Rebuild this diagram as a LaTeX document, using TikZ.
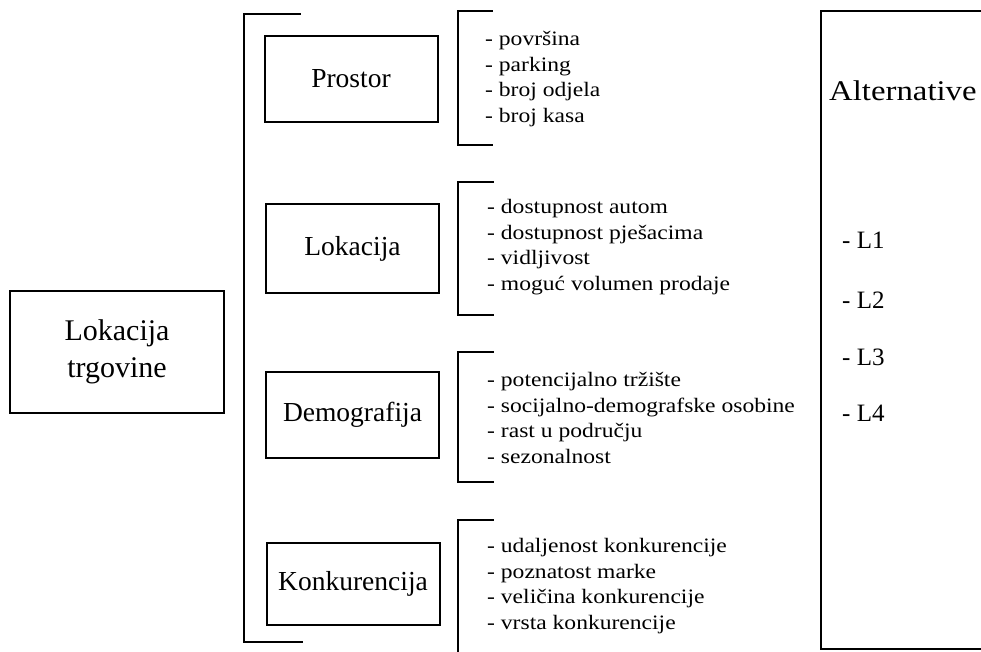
\documentclass[tikz,border=0pt]{standalone}
\usepackage{fontspec}
\setmainfont{Liberation Serif}
\newfontfamily\widefont[FakeStretch=1.15]{Liberation Serif}
\begin{document}
\begin{tikzpicture}[x=1pt,y=-1pt,
  ln/.style={line width=2pt, line cap=rect},
  catbox/.style={draw, line width=2pt, minimum width=173pt, minimum height=86pt, inner sep=0pt, font=\fontsize{27.5}{30}\selectfont},
  listtxt/.style={anchor=west, align=left, inner sep=0pt, font=\widefont\fontsize{20.5}{25.5}\selectfont},
  alttxt/.style={anchor=west, inner sep=0pt, font=\fontsize{25}{30}\selectfont}]
\useasboundingbox (0,0) rectangle (981,651);
% main box
\node[draw, line width=2pt, minimum width=214pt, minimum height=122pt, align=center, inner sep=0pt,
  font=\fontsize{30}{37}\selectfont] (main) at (117,352) {Lokacija\\trgovine};
% big bracket
\draw[ln] (300,14) -- (244,14) -- (244,642) -- (302,642);
% category boxes
\node[catbox] (prostor) at (351,79) {Prostor};
\node[catbox, minimum height=89pt] (lokacija) at (352.5,248.5) {Lokacija};
\node[catbox] (demo) at (352.5,415) {Demografija};
\node[catbox, minimum height=82pt] (konk) at (353,584) {Konkurencija};
% list brackets
\draw[ln] (492,11) -- (458,11) -- (458,145) -- (492,145);
\draw[ln] (493,182) -- (458,182) -- (458,315) -- (493,315);
\draw[ln] (493,352) -- (458,352) -- (458,482) -- (493,482);
\draw[ln] (493,520) -- (458,520) -- (458,652);
% lists
\node[listtxt] (l1) at (485,79) {- površina\\- parking\\- broj odjela\\- broj kasa};
\node[listtxt] (l2) at (487,247) {- dostupnost autom\\- dostupnost pješacima\\- vidljivost\\- moguć volumen prodaje};
\node[listtxt] (l3) at (487,418) {- potencijalno tržište\\- socijalno-demografske osobine\\- rast u području\\- sezonalnost};
\node[listtxt] (l4) at (487,586) {- udaljenost konkurencije\\- poznatost marke\\- veličina konkurencije\\- vrsta konkurencije};
% alternatives
\draw[ln] (985,11) -- (821,11) -- (821,649) -- (985,649);
\node[alttxt, font=\widefont\fontsize{28.5}{30}\selectfont] (alt) at (829,91) {Alternative};
\node[alttxt] (a1) at (842,240) {- L1};
\node[alttxt] (a2) at (842,300) {- L2};
\node[alttxt] (a3) at (842,357) {- L3};
\node[alttxt] (a4) at (842,413) {- L4};
\end{tikzpicture}
\end{document}
